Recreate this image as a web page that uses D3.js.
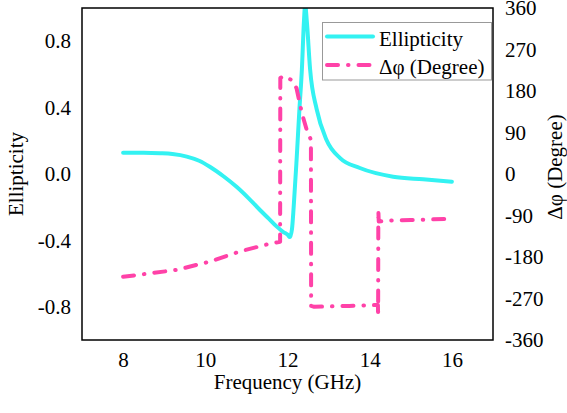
<!DOCTYPE html>
<html lang="en">
<head>
<meta charset="utf-8">
<title>Ellipticity and phase difference</title>
<style>
  body { margin: 0; background: white; }
  svg text { font-family: "Liberation Serif", "Times New Roman", Times, "DejaVu Serif", serif; fill: black; }
</style>
<script src="https://d3js.org/d3.v7.min.js"></script>
</head>
<body>
<script>
const width = 567, height = 413;
const margin = {left: 82, right: 74, top: 8, bottom: 73};

// ellipticity (left axis)
const ellFreq = [8, 8.5, 8.9, 9.2, 9.55, 9.85, 10.11, 10.45, 10.76, 11.05, 11.33, 11.55, 11.74, 11.9, 12.0, 12.06,
                 12.11, 12.15, 12.22, 12.29, 12.35, 12.40, 12.43, 12.47, 12.55, 12.71, 12.95, 13.28, 13.76, 14.57, 15.3, 16];
const ellVal = [0.128, 0.128, 0.125, 0.12, 0.105, 0.08, 0.044, -0.015, -0.077, -0.145, -0.217, -0.27, -0.317, -0.35, -0.365, -0.38,
                -0.33, -0.2, 0.08, 0.39, 0.63, 0.92, 1.02, 0.92, 0.63, 0.39, 0.205, 0.096, 0.036, -0.016, -0.032, -0.046];

// phase difference in degrees (right axis)
const phFreq = [8, 9.3, 10.11, 10.84, 11.62, 11.82, 11.825, 11.9, 12.1, 12.22, 12.35, 12.47, 12.57, 12.575,
                12.65, 13.5, 14.2, 14.205, 14.21, 14.22, 14.45, 15.0, 15.5, 16];
const phVal = [-223, -208, -190, -168, -150, -147, 208, 212, 204, 186, 132, 95, 74, -286,
               -288, -286, -284, -310, -78, -103, -101, -100, -98.5, -97];

const xTicks = [8, 10, 12, 14, 16];
const yTicks = [0.8, 0.4, 0.0, -0.4, -0.8];
const y2Ticks = [360, 270, 180, 90, 0, -90, -180, -270, -360];

const seriesNames = ["Ellipticity", "\u0394\u03c6 (Degree)"];
const colors = ["#33f2f2", "#ff42a8"];
const serif = "'Liberation Serif', 'Times New Roman', Times, 'DejaVu Serif', serif";

const svg = d3.select("body").append("svg")
    .attr("width", width)
    .attr("height", height);

const x = d3.scaleLinear().domain([7, 17]).range([margin.left, width - margin.right]);
const y = d3.scaleLinear().domain([-1, 1]).range([height - margin.bottom, margin.top]);
const y2 = d3.scaleLinear().domain([-360, 360]).range([height - margin.bottom, margin.top]);

const fmt = v => d3.format(".1f")(v).replace("\u2212", "-");

svg.append("clipPath").attr("id", "clip")
  .append("rect")
    .attr("x", margin.left).attr("y", margin.top)
    .attr("width", width - margin.left - margin.right)
    .attr("height", height - margin.top - margin.bottom);

// axes (labels only, no ticks)
const gx = svg.append("g")
    .attr("transform", `translate(0,${height - margin.bottom})`)
    .call(d3.axisBottom(x).tickValues(xTicks).tickSize(0).tickPadding(12));
const gy = svg.append("g")
    .attr("transform", `translate(${margin.left},0)`)
    .call(d3.axisLeft(y).tickValues(yTicks).tickSize(0).tickPadding(11).tickFormat(fmt));
const gy2 = svg.append("g")
    .attr("transform", `translate(${width - margin.right},0)`)
    .call(d3.axisRight(y2).tickValues(y2Ticks).tickSize(0).tickPadding(12)
      .tickFormat(v => String(v)));
[gx, gy, gy2].forEach(g => {
  g.attr("font-family", null).attr("font-size", null);
  g.select(".domain").remove();
  g.selectAll("text").style("font-family", serif).style("font-size", "21px");
});

// lines
const ellLine = d3.line()
    .x((d, i) => x(ellFreq[i]))
    .y(d => y(d))
    .curve(d3.curveMonotoneX);
const phLine = d3.line()
    .x((d, i) => x(phFreq[i]))
    .y(d => y2(d));

svg.append("path")
    .attr("clip-path", "url(#clip)")
    .attr("d", ellLine(ellVal))
    .attr("fill", "none")
    .attr("stroke", colors[0])
    .attr("stroke-width", 4)
    .attr("stroke-linecap", "round")
    .attr("stroke-linejoin", "round");

svg.append("path")
    .attr("clip-path", "url(#clip)")
    .attr("d", phLine(phVal))
    .attr("fill", "none")
    .attr("stroke", colors[1])
    .attr("stroke-width", 4)
    .attr("stroke-linecap", "round")
    .attr("stroke-linejoin", "round")
    .attr("stroke-dasharray", "11,10,0.5,10");

// frame
svg.append("rect")
    .attr("x", margin.left).attr("y", margin.top)
    .attr("width", width - margin.left - margin.right)
    .attr("height", height - margin.top - margin.bottom)
    .attr("fill", "none")
    .attr("stroke", "black")
    .attr("stroke-width", 1.5);

// axis titles
svg.append("text")
    .attr("transform", `translate(${(margin.left + width - margin.right) / 2},389)`)
    .attr("text-anchor", "middle")
    .style("font-size", "21px")
    .text("Frequency (GHz)");
svg.append("text")
    .attr("transform", "translate(23,174) rotate(-90)")
    .attr("text-anchor", "middle")
    .style("font-size", "21px")
    .text("Ellipticity");
svg.append("text")
    .attr("transform", "translate(562,167) rotate(-90)")
    .attr("text-anchor", "middle")
    .style("font-size", "21px")
    .text("\u0394\u03c6 (Degree)");

// legend
const legend = svg.append("g");
legend.append("rect")
    .attr("x", 322.5).attr("y", 22.5)
    .attr("width", 169).attr("height", 57.5)
    .attr("fill", "white")
    .attr("stroke", "#999")
    .attr("stroke-width", 1);
seriesNames.forEach((name, i) => {
  const ly = 36.5 + i * 28.5;
  legend.append("line")
      .attr("x1", 327).attr("x2", 373)
      .attr("y1", ly).attr("y2", ly)
      .attr("stroke", colors[i])
      .attr("stroke-width", 4)
      .attr("stroke-linecap", "round")
      .attr("stroke-dasharray", i === 1 ? "11,10,0.5,10" : null);
  legend.append("text")
      .attr("x", 379)
      .attr("y", ly + 9)
      .style("font-size", "21px")
      .text(name);
});
</script>
</body>
</html>
